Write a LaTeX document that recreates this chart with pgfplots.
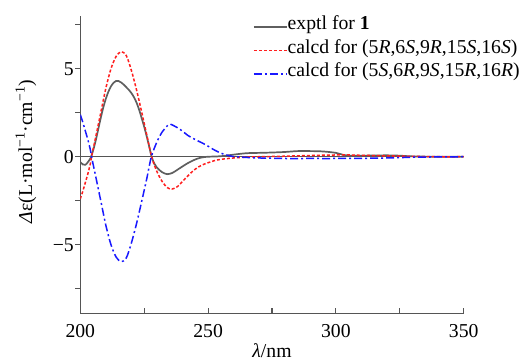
\documentclass[border=0pt]{standalone}
\usepackage{pgfplots}
\pgfplotsset{compat=1.18}
\usepackage{fontspec}
\setmainfont{Liberation Serif}
\definecolor{axgray}{RGB}{85,85,85}
\definecolor{expgray}{RGB}{95,95,95}
\definecolor{cred}{RGB}{255,30,30}
\definecolor{cblue}{RGB}{25,25,255}
\newcommand{\fs}{\fontsize{19.7bp}{23.6bp}\selectfont}
\begin{document}
\begin{tikzpicture}
\begin{axis}[
  at={(0,0)}, anchor=south west,
  scale only axis, width=383.4bp, height=297.3bp,
  xmin=200, xmax=350, ymin=-8.9, ymax=8,
  axis x line=bottom, axis y line=left,
  axis line style={-, draw=axgray, line width=1.2bp},
  x axis line style={-}, y axis line style={-},
  xtick={200,250,300,350}, xticklabels={200,250,300,350},
  minor xtick={225,275,325},
  ytick={-5,0,5}, yticklabels={−5,0,5},
  minor ytick={-7.5,-2.5,2.5,7.5},
  tick align=inside,
  major tick length=5bp, minor tick length=5bp,
  every tick/.style={draw=axgray, line width=1.1bp},
  y tick style={xshift=-5bp},
  xticklabel style={font=\fs, inner sep=0pt, anchor=north, yshift=-11bp},
  yticklabel style={font=\fs, inner sep=0pt, anchor=east, xshift=-6.3bp},
  xlabel={\textit{λ}/nm},
  ylabel={\textit{Δ}ε(L·mol\textsuperscript{−1}·cm\textsuperscript{−1})},
  every axis x label/.style={at={(axis description cs:0.5,-0.150)}, anchor=base, font=\fs},
  every axis y label/.style={at={(axis description cs:-0.1416,0.544)}, anchor=center, rotate=90, font=\fs},
  legend style={draw=none, fill=none, font=\fs, at={(axis description cs:0.4505,1.0047)}, anchor=north west,
    inner sep=0pt, outer sep=0pt, row sep=0.4bp, column sep=0pt,
    nodes={inner sep=0pt, text height=15bp, text depth=8bp, anchor=base west}},
  legend cell align=left,
  legend image code/.code={\draw[#1] (0bp,2.5bp) -- (33bp,2.5bp);},
]
\addplot[axgray, line width=1.2bp, forget plot] coordinates {(200,0) (350,0)};
\addplot[draw=expgray, line width=1.7bp, smooth] coordinates {
(200,-0.30) (201,-0.44) (202,-0.46) (203,-0.3) (204,-0.08) (205,0.35) (206,0.9) (207,1.55)
(208,2.2) (209,2.8) (210,3.3) (211,3.7) (212,4.0) (213,4.2) (214,4.31) (215,4.3) (216,4.22)
(217,4.1) (218,3.95) (219,3.8) (220,3.62) (221,3.38) (222,3.08) (223,2.68) (224,2.2) (225,1.7)
(226,1.15) (227,0.55) (228,-0.05) (229,-0.4) (230,-0.62) (232,-0.88) (234,-0.99) (236,-0.92)
(238,-0.74) (240,-0.55) (242,-0.37) (244,-0.22) (246,-0.1) (248,-0.03) (250,0) (255,0.03)
(260,0.12) (265,0.2) (270,0.22) (275,0.24) (280,0.27) (285,0.32) (290,0.32) (295,0.3)
(300,0.22) (303,0.1) (306,0.06) (310,0.06) (315,0.07) (320,0.08) (325,0.06) (330,0.02)
(340,0) (350,0)};
\addlegendentry{exptl for \textbf{1}}
\addplot[draw=cred, line width=1.5bp, smooth, dash pattern=on 3bp off 2bp] coordinates {
(200,-2.4) (201,-1.95) (202,-1.45) (203,-0.95) (204,-0.35) (204.4,0) (206,1.1) (208,2.5)
(210,3.9) (212,5.0) (214,5.7) (216,5.97) (218,5.75) (220,4.9) (222,3.8) (224,2.55) (226,1.25)
(228,-0.05) (230,-0.85) (232,-1.4) (234,-1.75) (235.8,-1.84) (238,-1.7) (240,-1.4) (242,-1.1)
(244,-0.82) (246,-0.6) (248,-0.45) (250,-0.34) (253,-0.2) (256,-0.13) (260,-0.07) (265,-0.02)
(270,0) (280,0.03) (290,0.07) (300,0.1) (305,0.1) (310,0.08) (320,0.05) (330,0.02) (340,0) (350,0)};
\addlegendentry{calcd for (5\textit{R},6\textit{S},9\textit{R},15\textit{S},16\textit{S})}
\addplot[draw=cblue, line width=1.5bp, smooth, dash pattern=on 8bp off 3bp on 2bp off 3bp] coordinates {
(200,2.4) (201,1.95) (202,1.45) (203,0.95) (204,0.35) (204.4,0) (206,-1.1) (208,-2.5)
(210,-3.9) (212,-5.0) (214,-5.7) (216,-5.97) (218,-5.75) (220,-4.9) (222,-3.8) (224,-2.55)
(226,-1.25) (227.8,0) (230,0.85) (232,1.4) (234,1.75) (235.2,1.85) (238,1.65) (240,1.45)
(242,1.22) (244,1.05) (246,0.9) (248,0.76) (250,0.6) (252,0.42) (254,0.27) (256,0.15)
(258,0.07) (260,0.01) (265,-0.04) (270,-0.07) (280,-0.1) (290,-0.1) (300,-0.1) (310,-0.09)
(320,-0.07) (330,-0.03) (340,-0.01) (350,0)};
\addlegendentry{calcd for (5\textit{S},6\textit{R},9\textit{S},15\textit{R},16\textit{R})}
\end{axis}
\pgfresetboundingbox
\useasboundingbox (-80.3bp,-48.7bp) rectangle (449.7bp,313.3bp);
\end{tikzpicture}
\end{document}
